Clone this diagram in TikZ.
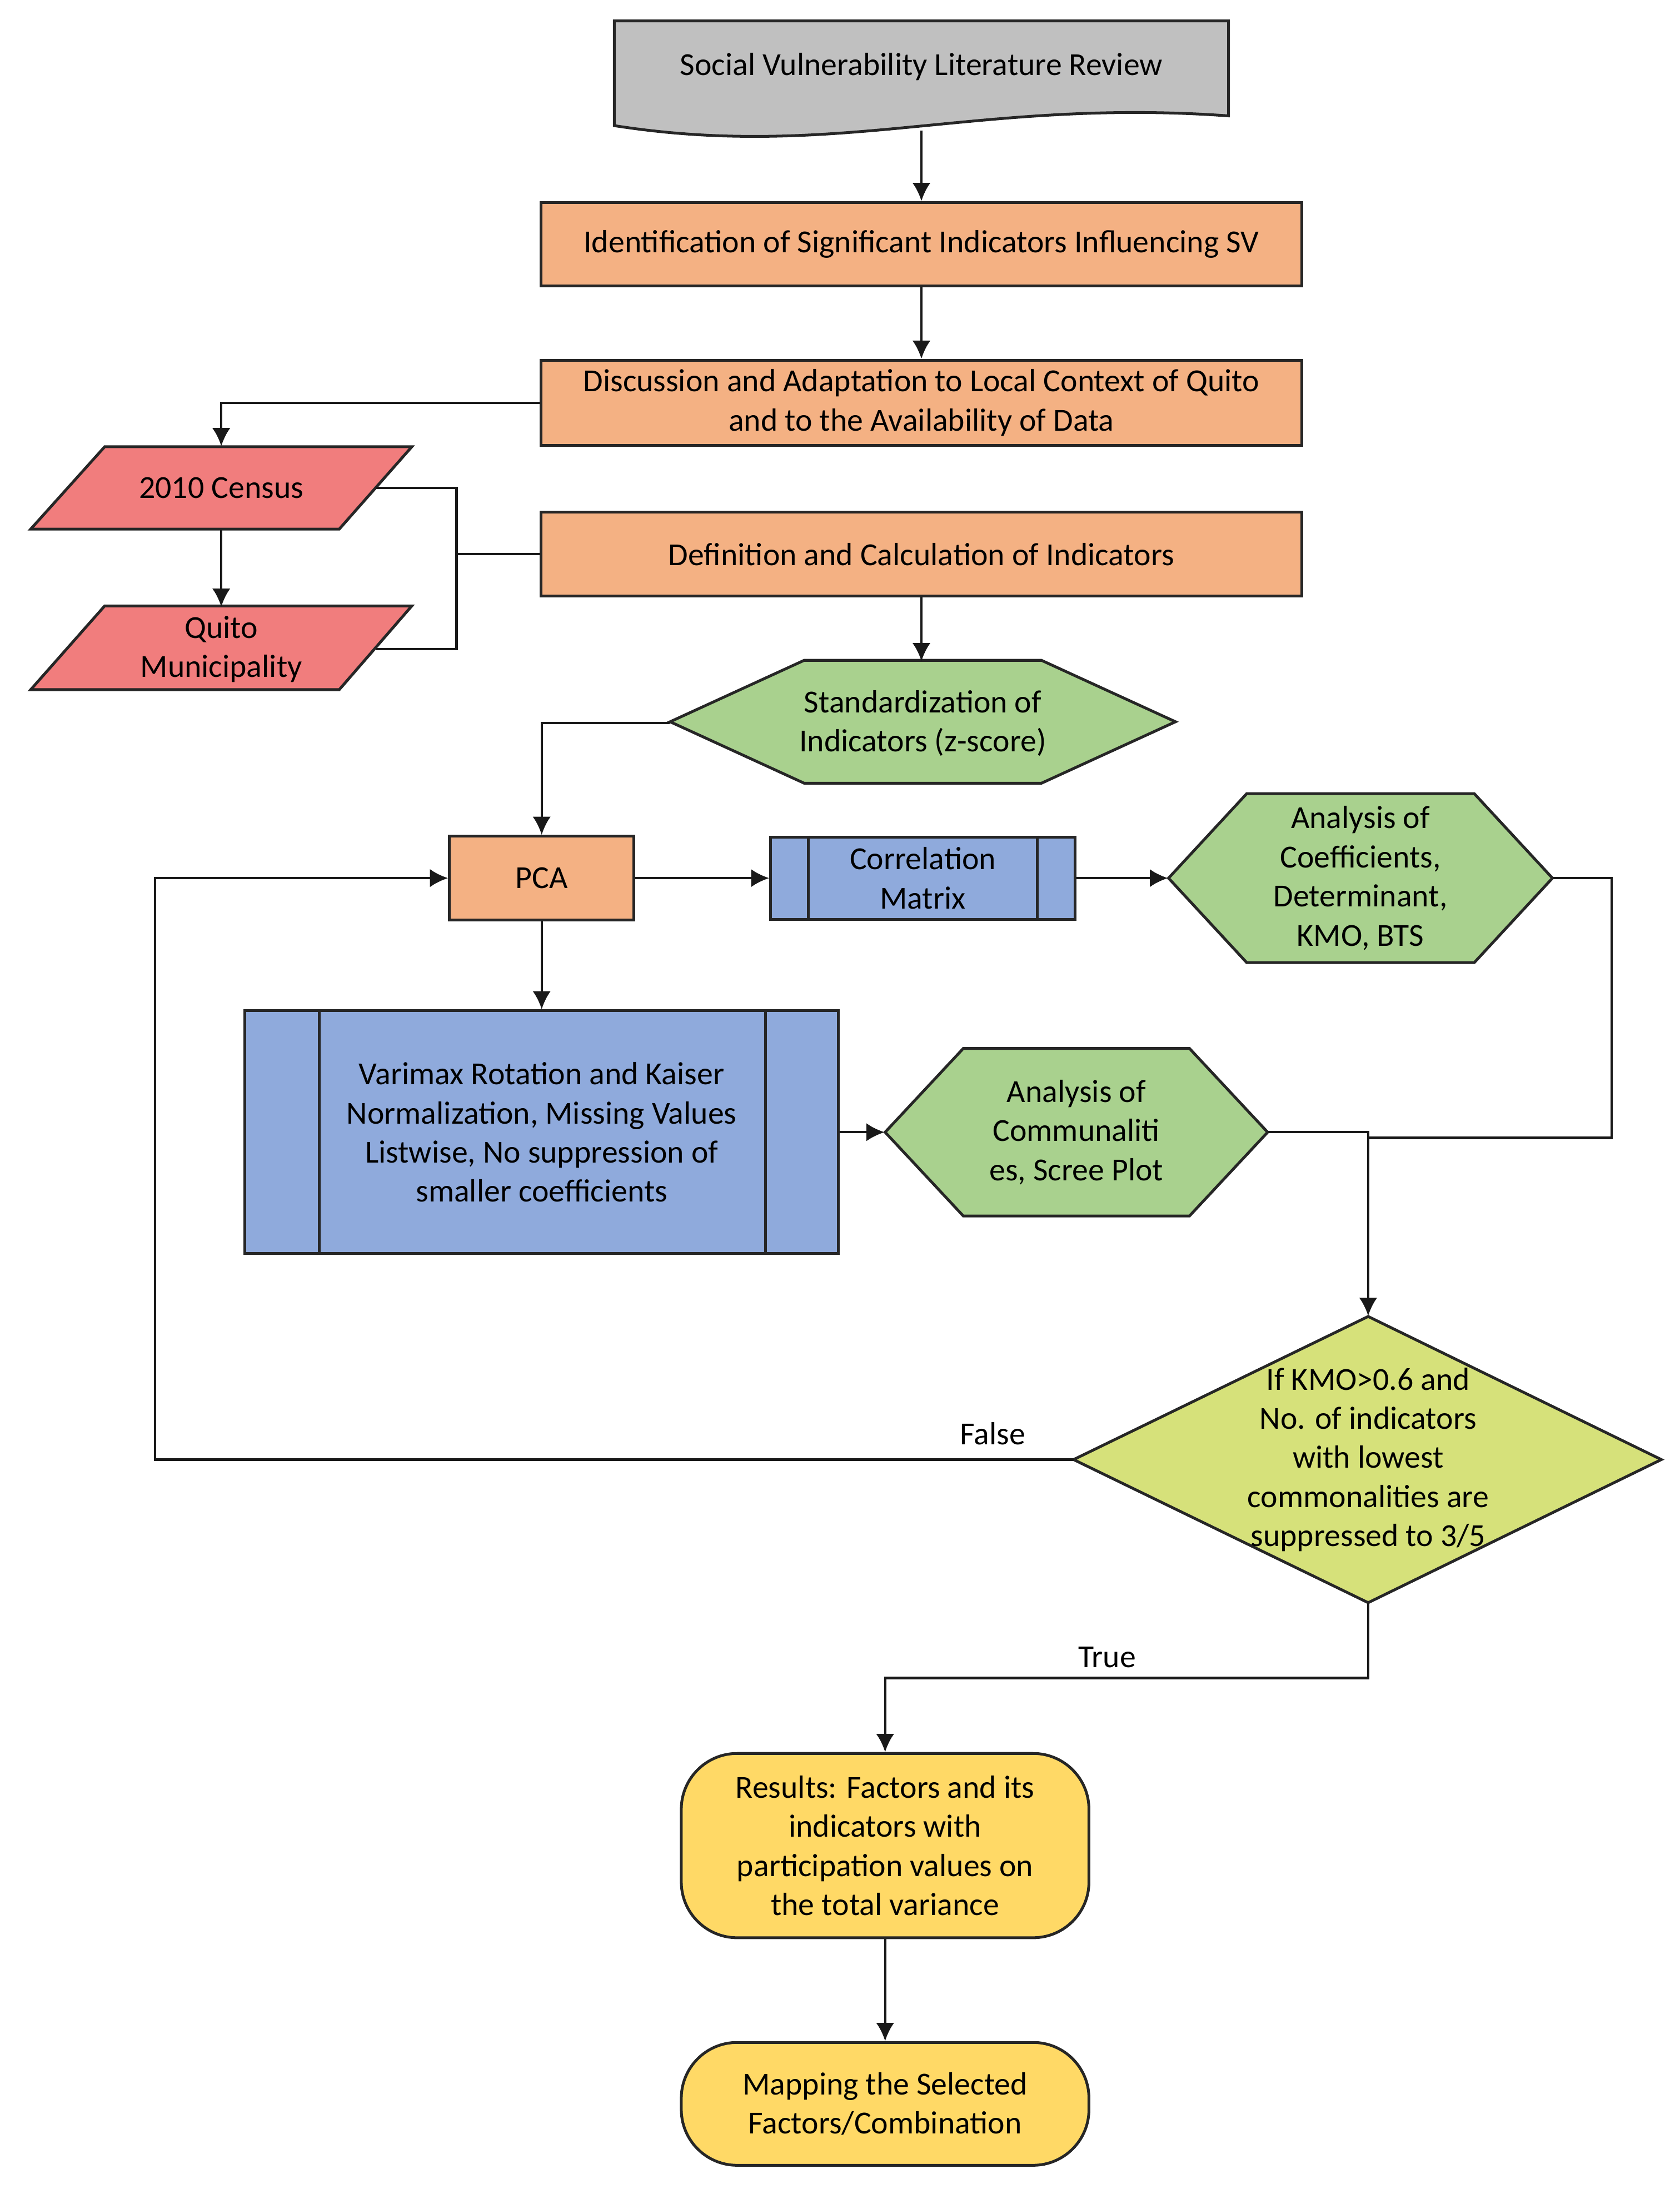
\documentclass[tikz,border=0pt]{standalone}
\usepackage{fontspec}
\setmainfont{Carlito}
\usetikzlibrary{arrows.meta,calc}
\definecolor{cgray}{RGB}{192,192,192}
\definecolor{corange}{RGB}{244,177,131}
\definecolor{cred}{RGB}{241,125,125}
\definecolor{cgreen}{RGB}{169,209,142}
\definecolor{cblue}{RGB}{143,170,220}
\definecolor{clime}{RGB}{214,225,122}
\definecolor{cyellow}{RGB}{255,217,102}
\begin{document}
\begin{tikzpicture}[x=0.5pt,y=-0.5pt,
  txt/.style={font=\fontsize{11.5}{14}\selectfont, align=center, inner sep=0pt, text=black},
  shp/.style={line width=1pt, draw=black!85},
  ghost/.style={txt, draw=none, fill=none},
  procbox/.style={txt, shp, fill=corange},
  predef/.style={txt, shp, fill=cblue},
  termbox/.style={txt, shp, fill=cyellow, rounded corners=20pt},
  conn/.style={line width=0.85pt, draw=black!90},
  arr/.style={conn, -{Latex[length=6.5pt,width=6.5pt]}}]
\useasboundingbox (0,0) rectangle (1203,1568);

% document shape
\draw[shp, fill=cgray] (440,15) -- (880,15) -- (880,83) .. controls (700,70) and (600,115) .. (440,90) -- cycle;
\node[ghost, minimum width=220pt, minimum height=45pt] (doc) at (660,48) {Social Vulnerability Literature Review};

% process boxes
\node[procbox, minimum width=272.5pt, minimum height=30pt] (ident) at (660,175) {Identification of Significant Indicators Influencing SV};
\node[procbox, minimum width=272.5pt, minimum height=30.5pt] (disc) at (660,288.5) {Discussion and Adaptation to Local Context of Quito\\and to the Availability of Data};
\node[procbox, minimum width=272.5pt, minimum height=30pt] (defn) at (660,397) {Definition and Calculation of Indicators};

% data parallelograms
\draw[shp, fill=cred] (75,320) -- (295,320) -- (243,379) -- (22,379) -- cycle;
\node[ghost, minimum width=110.5pt, minimum height=29.5pt] (census) at (158.5,349.5) {2010 Census};
\draw[shp, fill=cred] (75,434) -- (295,434) -- (243,494) -- (22,494) -- cycle;
\node[ghost, minimum width=110.5pt, minimum height=30pt] (quito) at (158.5,465) {Quito\\Municipality};

% standardization hexagon
\draw[shp, fill=cgreen] (480,517) -- (576,473) -- (746,473) -- (842,517) -- (746,561) -- (576,561) -- cycle;
\node[ghost, minimum width=181pt, minimum height=44pt] (std) at (661,518) {Standardization of\\Indicators (z-score)};

% PCA
\node[procbox, minimum width=66pt, minimum height=30pt] (pca) at (388,629) {PCA};

% correlation matrix
\node[predef, minimum width=109pt, minimum height=29.5pt] (corr) at (661,629) {Correlation\\Matrix};
\draw[shp] ([xshift=14pt]corr.north west) -- ([xshift=14pt]corr.south west);
\draw[shp] ([xshift=-14pt]corr.north east) -- ([xshift=-14pt]corr.south east);

% coefficients hexagon
\draw[shp, fill=cgreen] (837,629) -- (893,568.5) -- (1056,568.5) -- (1112,629) -- (1056,689.5) -- (893,689.5) -- cycle;
\node[ghost, minimum width=137.5pt, minimum height=60.5pt] (coef) at (974.5,629) {Analysis of\\Coefficients,\\Determinant,\\KMO, BTS};

% varimax
\node[predef, minimum width=212.5pt, minimum height=87pt] (var) at (388,811) {Varimax Rotation and Kaiser\\Normalization, Missing Values\\Listwise, No suppression of\\smaller coefficients};
\draw[shp] ([xshift=27pt]var.north west) -- ([xshift=27pt]var.south west);
\draw[shp] ([xshift=-26.5pt]var.north east) -- ([xshift=-26.5pt]var.south east);

% communalities hexagon
\draw[shp, fill=cgreen] (634,811) -- (690,751) -- (852,751) -- (908,811) -- (852,871) -- (690,871) -- cycle;
\node[ghost, minimum width=137pt, minimum height=60pt] (comm) at (771,811) {Analysis of\\Communaliti\\es, Scree Plot};

% decision diamond
\draw[shp, fill=clime] (980,943) -- (1190,1045.5) -- (980,1148) -- (769,1045.5) -- cycle;
\node[ghost, minimum width=210.5pt, minimum height=102.5pt] (dec) at (980,1045.5) {If KMO>0.6 and\\No. of indicators\\with lowest\\commonalities are\\suppressed to 3/5};

% terminators
\node[termbox, minimum width=146pt, minimum height=66pt] (res) at (634,1322) {Results: Factors and its\\indicators with\\participation values on\\the total variance};
\node[termbox, minimum width=146pt, minimum height=44pt] (map) at (634,1507) {Mapping the Selected\\Factors/Combination};

% connectors
\draw[arr] (doc.south) -- (doc.south |- ident.north);
\draw[arr] (ident.south) -- (disc.north);
\draw[arr] (disc.west) -| (census.north);
\draw[arr] (census.south) -- (census.south |- quito.north);
\coordinate (brk) at (327,397);
\draw[conn] (census.east) -| (brk) |- (quito.east);
\draw[conn] (brk) -- (defn.west);
\draw[arr] (defn.south) -- (defn.south |- std.north);
\draw[arr] (std.west) -| (pca.north);
\draw[arr] (pca.east) -- (corr.west);
\draw[arr] (corr.east) -- (coef.west);
\coordinate (jn) at (980,815);
\draw[conn] (coef.east) -- ++(42,0) |- (jn);
\draw[arr] (pca.south) -- (var.north);
\draw[arr] (var.east) -- (comm.west);
\draw[arr] (comm.east) -| (dec.north);
\coordinate (fl) at (111,1045.5);
\draw[arr] (dec.west) -- (fl) |- (pca.west);
\node[txt] (flab) at (711,1027) {False};
\coordinate (tr) at (980,1202);
\draw[arr] (dec.south) -- (tr) -| (res.north);
\node[txt] (tlab) at (793,1187) {True};
\draw[arr] (res.south) -- (map.north);
\end{tikzpicture}
\end{document}
